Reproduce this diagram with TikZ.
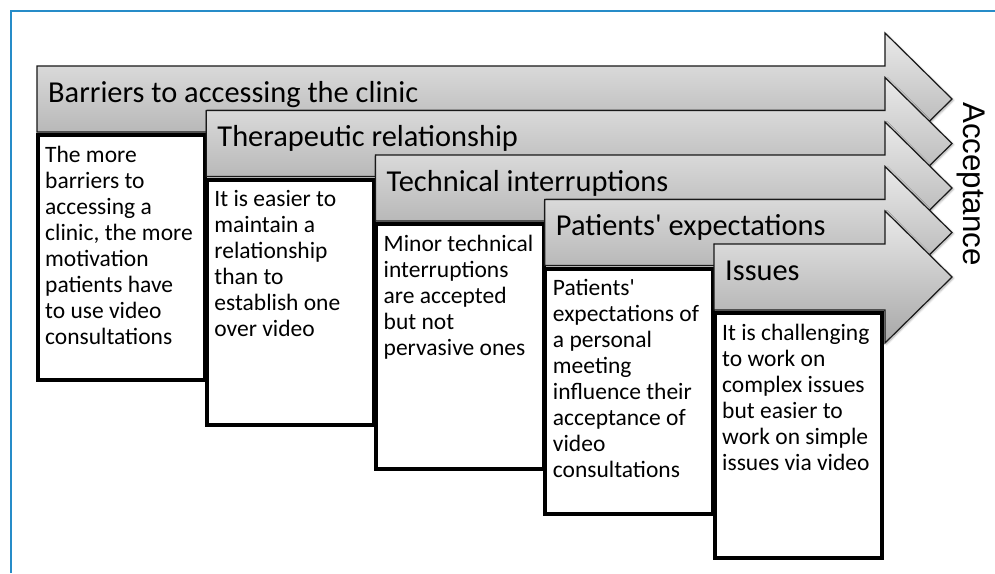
\documentclass[tikz,border=0pt]{standalone}
\usepackage{fontspec}
\usetikzlibrary{shadows.blur}
\setmainfont{Carlito}[Ligatures=TeXOff]
\newfontfamily\accfont{Liberation Sans}
\definecolor{framecol}{RGB}{38,140,200}
\definecolor{arrowtop}{RGB}{234,234,234}
\definecolor{arrowbot}{RGB}{168,168,168}
\definecolor{outlinecol}{RGB}{25,25,25}

% outline of one stage arrow: #1 = left edge, #2 = top edge of the shaft (measured downwards)
\newcommand\arrowpath[2]{(#1,{-(#2)}) -- (885,{-(#2)}) -- (885,{-(#2-33)}) -- (952,{-(#2+33)})
    -- (885,{-(#2+99)}) -- (885,{-(#2+66)}) -- (#1,{-(#2+66)}) -- cycle}

% stage arrow with a vertical grey gradient built from thin strips
\newcommand\stagearrow[2]{%
  \path[arrowshadow] \arrowpath{#1}{#2};
  \begin{scope}
    \clip \arrowpath{#1}{#2};
    \foreach \k in {0,...,66} {
      \pgfmathsetmacro\mixval{100-\k*100/66}
      \fill[arrowtop!\mixval!arrowbot] (#1-2,{-(#2-34+2*\k)}) rectangle (955,{-(#2-34+2*\k+2.4)});
    }
  \end{scope}
  \draw[stageoutline] \arrowpath{#1}{#2};}

\begin{document}
\begin{tikzpicture}[x=1pt,y=1pt,
  stageoutline/.style={draw=outlinecol, line width=1.2pt, line join=miter},
  arrowshadow/.style={blur shadow={shadow xshift=1.2pt, shadow yshift=-1.2pt,
      shadow blur steps=6, shadow blur radius=2pt, shadow opacity=35}},
  notebox/.style={draw=black, line width=4pt, fill=white},
  title/.style={inner sep=0pt, font=\fontsize{30.4}{34}\selectfont, anchor=base west},
  body/.style={inner sep=0pt, align=left, anchor=north west,
    font=\fontsize{23.5}{26}\selectfont},
  framestyle/.style={draw=framecol, line width=2pt}]
\useasboundingbox (0,0) rectangle (995,-573);

% outer frame
\draw[framestyle] (11,-573) -- (11,-11) -- (995,-11);

% stage 1
\stagearrow{37}{66}
\node[title] (t1) at (48,-102) {Barriers to accessing the clinic};
\draw[notebox] (37.5,-135) rectangle (205,-380);
\node[body] (b1) at (45,-146) {The more\\barriers to\\accessing a\\clinic, the more\\motivation\\patients have\\to use video\\consultations};

% stage 2
\stagearrow{206.25}{110.5}
\node[title] (t2) at (217.25,-146.5) {Therapeutic relationship};
\draw[notebox] (206.75,-179.5) rectangle (374.25,-424.5);
\node[body] (b2) at (214.25,-190.5) {It is easier to\\maintain a\\relationship\\than to\\establish one\\over video};

% stage 3
\stagearrow{375.5}{155}
\node[title] (t3) at (386.5,-191) {Technical interruptions};
\draw[notebox] (376,-224) rectangle (543.5,-469);
\node[body] (b3) at (383.5,-235) {Minor technical\\interruptions\\are accepted\\but not\\pervasive ones};

% stage 4
\stagearrow{544.75}{199.5}
\node[title] (t4) at (555.75,-235.5) {Patients' expectations};
\draw[notebox] (545.25,-268.5) rectangle (712.75,-513.5);
\node[body] (b4) at (552.75,-279.5) {Patients'\\expectations of\\a personal\\meeting\\influence their\\acceptance of\\video\\consultations};

% stage 5
\stagearrow{714}{244}
\node[title] (t5) at (725,-280) {Issues};
\draw[notebox] (714.5,-313) rectangle (882,-558);
\node[body] (b5) at (722,-324) {It is challenging\\to work on\\complex issues\\but easier to\\work on simple\\issues via video};

% outcome label
\node[rotate=-90, anchor=base, inner sep=0pt, font=\accfont\fontsize{31.3}{34}\selectfont] (acc) at (963,-184) {Acceptance};
\end{tikzpicture}
\end{document}
